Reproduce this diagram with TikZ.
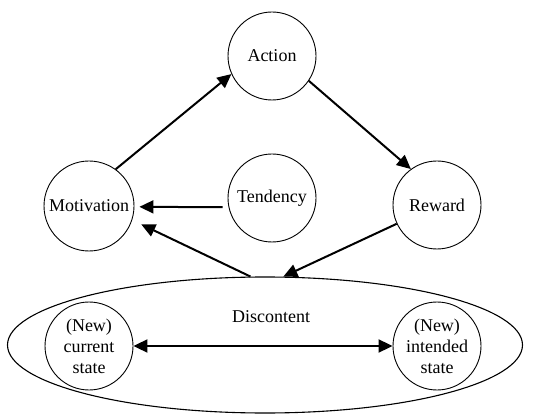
\documentclass[tikz,border=0pt]{standalone}
\usepackage{fontspec}
\setmainfont{Liberation Serif}
\usetikzlibrary{arrows.meta,shapes.geometric}
\begin{document}
\begin{tikzpicture}[x=1pt,y=-1pt,
  state/.style={circle,draw,line width=0.9pt,minimum size=88pt,inner sep=0pt,align=center,
    font=\fontsize{18}{21}\selectfont},
  conn/.style={line width=2pt,-{Triangle[length=14pt,width=13pt]}},
  lbl/.style={font=\fontsize{18}{21}\selectfont,inner sep=0pt}]
\useasboundingbox (0,0) rectangle (533,414);
\node[state] (act) at (272,56) {Action};
\node[state,minimum size=90pt] (mot) at (89,206) {Motivation};
\node[state] (ten) at (272,198) {Tendency};
\node[state] (rew) at (437,205) {Reward};
\node[ellipse,draw,line width=1.1pt,minimum width=515pt,minimum height=136pt,inner sep=0pt] (disc) at (265,345) {};
\node[lbl] (disclbl) at (271,317) {Discontent};
\node[state] (cur) at (89,346) {(New)\\current\\state};
\node[state] (int) at (437,346) {(New)\\intended\\state};
\draw[conn] (mot.54) -- (act.204);
\draw[conn] (act.-34) -- (rew.126);
\draw[conn,shorten <=6pt,shorten >=5pt] (ten.192) -- (mot.-1);
\draw[conn,shorten >=10pt] (disc.102) -- (mot.-18);
\draw[conn] (rew.205) -- (disc.75);
\draw[line width=2pt,{Triangle[length=14pt,width=13pt]}-{Triangle[length=14pt,width=13pt]}] (cur.east) -- (int.west);
\end{tikzpicture}
\end{document}
